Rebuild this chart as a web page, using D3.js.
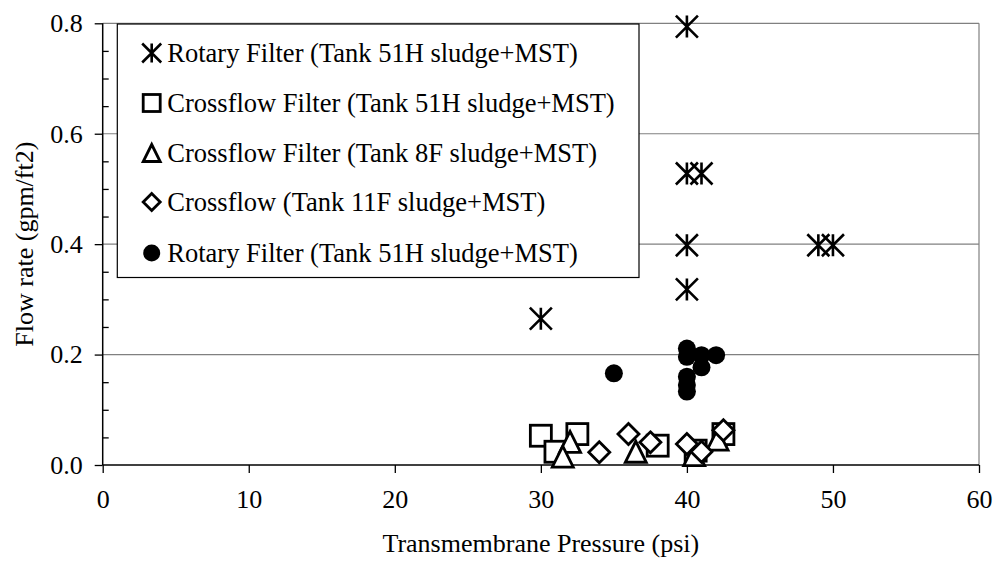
<!DOCTYPE html>
<html><head><meta charset="utf-8">
<script src="https://cdn.jsdelivr.net/npm/d3@7"></script>
<style>body{margin:0;background:#fff}svg{display:block}text{font-family:"Liberation Serif","Times New Roman",serif;fill:#000}</style>
</head><body><div id="chart"></div>
<script>
const xTicks = [0,10,20,30,40,50,60];
const yTicks = [0.0,0.2,0.4,0.6,0.8];
const seriesNames = [
  "Rotary Filter (Tank 51H sludge+MST)",
  "Crossflow Filter (Tank 51H sludge+MST)",
  "Crossflow Filter (Tank 8F sludge+MST)",
  "Crossflow (Tank 11F sludge+MST)",
  "Rotary Filter (Tank 51H sludge+MST)"
];
const starX = [40, 40, 41, 40, 49, 50, 40, 30];
const starY = [0.794, 0.528, 0.528, 0.398, 0.398, 0.398, 0.318, 0.265];
const squareX = [30, 31, 32.5, 38, 40.6, 42.5];
const squareY = [0.053, 0.024, 0.056, 0.035, 0.026, 0.056];
const triX = [32, 31.5, 36.5, 40.5, 42.1];
const triY = [0.042, 0.015, 0.024, 0.018, 0.046];
const diaX = [34, 36, 37.5, 40, 41, 42.5];
const diaY = [0.023, 0.056, 0.041, 0.038, 0.024, 0.063];
const circX = [35, 40, 40, 40, 40, 40, 41, 41, 42];
const circY = [0.166, 0.211, 0.196, 0.16, 0.145, 0.133, 0.199, 0.177, 0.199];

const W = 995, H = 563;
const L = 102.7, R = 979, T = 23.3, B = 465;
const FONT = '"Liberation Serif", "Times New Roman", serif';
const svg = d3.select("#chart").append("svg").attr("width", W).attr("height", H);
const x = d3.scaleLinear().domain([0,60]).range([L,R]);
const y = d3.scaleLinear().domain([0,0.8]).range([B,T]);

// gridlines
svg.append("g").selectAll("line").data(yTicks.filter(d=>d>0)).join("line")
  .attr("x1", L).attr("x2", R).attr("y1", d=>y(d)).attr("y2", d=>y(d))
  .attr("stroke", "#808080").attr("stroke-width", 1.2);
svg.append("line").attr("x1", R).attr("x2", R).attr("y1", T).attr("y2", B)
  .attr("stroke", "#808080").attr("stroke-width", 1.2);

// axes
const tickFs = 26;
const xAxis = svg.append("g").attr("transform", `translate(0,${B})`)
  .call(d3.axisBottom(x).tickValues(xTicks).tickSize(8).tickPadding(17).tickFormat(d3.format("d")));
const yAxis = svg.append("g").attr("transform", `translate(${L},0)`)
  .call(d3.axisLeft(y).tickValues(yTicks).tickSize(8).tickPadding(12).tickFormat(d3.format(".1f")));
const yMinor = svg.append("g").attr("transform", `translate(${L},0)`)
  .call(d3.axisRight(y).tickValues(d3.range(0.05,0.8,0.1).concat(d3.range(0.1,0.8,0.2))).tickSize(6).tickFormat(""));
yMinor.select(".domain").remove();
[xAxis, yAxis, yMinor].forEach(g => {
  g.attr("font-family", FONT).attr("font-size", tickFs);
  g.selectAll("path.domain").attr("stroke", "#000").attr("stroke-width", 1.5);
  g.selectAll(".tick line").attr("stroke", "#000").attr("stroke-width", 1.3);
  g.selectAll("text").attr("fill", "#000")
    .style("font-family", FONT).style("font-size", tickFs + "px");
});
xAxis.select(".domain").attr("d", `M${L},0H${R}`);
yAxis.select(".domain").attr("d", `M0,${B}V${T}`);

// titles
svg.append("text").attr("x", (L+R)/2).attr("y", 543).attr("dy", "0.35em").attr("text-anchor", "middle")
  .style("font-family", FONT).style("font-size", "26px").text("Transmembrane Pressure (psi)");
svg.append("text").attr("transform", `translate(24,${(T+B)/2}) rotate(-90)`).attr("dy", "0.35em").attr("text-anchor", "middle")
  .style("font-family", FONT).style("font-size", "26px").text("Flow rate (gpm/ft2)");

// legend
const lg = svg.append("g");
lg.append("rect").attr("x", 117.3).attr("y", 24).attr("width", 639-117.3).attr("height", 277.5-24)
  .attr("fill", "#fff").attr("stroke", "#000").attr("stroke-width", 1.2);

// marker painters
function star(g, cx, cy, s) {
  const h = s/2;
  g.append("path").attr("d", `M${cx-h},${cy-h}L${cx+h},${cy+h}M${cx-h},${cy+h}L${cx+h},${cy-h}M${cx},${cy-h}L${cx},${cy+h}`)
    .attr("stroke", "#000").attr("stroke-width", 2.6).attr("fill", "none");
}
function square(g, cx, cy, s) {
  g.append("rect").attr("x", cx-s/2).attr("y", cy-s/2).attr("width", s).attr("height", s)
    .attr("fill", "#fff").attr("stroke", "#000").attr("stroke-width", 2.8);
}
function tri(g, cx, cy, s) {
  const h = s/2;
  g.append("path").attr("d", `M${cx},${cy-h}L${cx+h},${cy+h}L${cx-h},${cy+h}Z`)
    .attr("fill", "#fff").attr("stroke", "#000").attr("stroke-width", 2.8);
}
function dia(g, cx, cy, s) {
  const h = s/2;
  g.append("path").attr("d", `M${cx},${cy-h}L${cx+h},${cy}L${cx},${cy+h}L${cx-h},${cy}Z`)
    .attr("fill", "#fff").attr("stroke", "#000").attr("stroke-width", 2.8);
}
function circ(g, cx, cy, s) {
  g.append("circle").attr("cx", cx).attr("cy", cy).attr("r", s/2).attr("fill", "#000");
}
const painters = [star, square, tri, dia, circ];
const legendRowsY = [53, 103, 153, 202, 253];
seriesNames.forEach((name, i) => {
  const ly = legendRowsY[i];
  painters[i](lg, 151.7, ly, i === 0 ? 19 : 17);
  lg.append("text").attr("x", 167.3).attr("y", ly).attr("dy", "0.35em")
    .style("font-family", FONT).style("font-size", "26.5px").text(name);
});

// data marks
const plot = svg.append("g");
const sets = [
  [squareX, squareY, square, 21],
  [triX, triY, tri, 21],
  [diaX, diaY, dia, 21],
  [starX, starY, star, 22],
  [circX, circY, circ, 18]
];
sets.forEach(([xs, ys, fn, s]) => {
  xs.forEach((v, i) => fn(plot, x(v), y(ys[i]), s));
});
</script></body></html>
